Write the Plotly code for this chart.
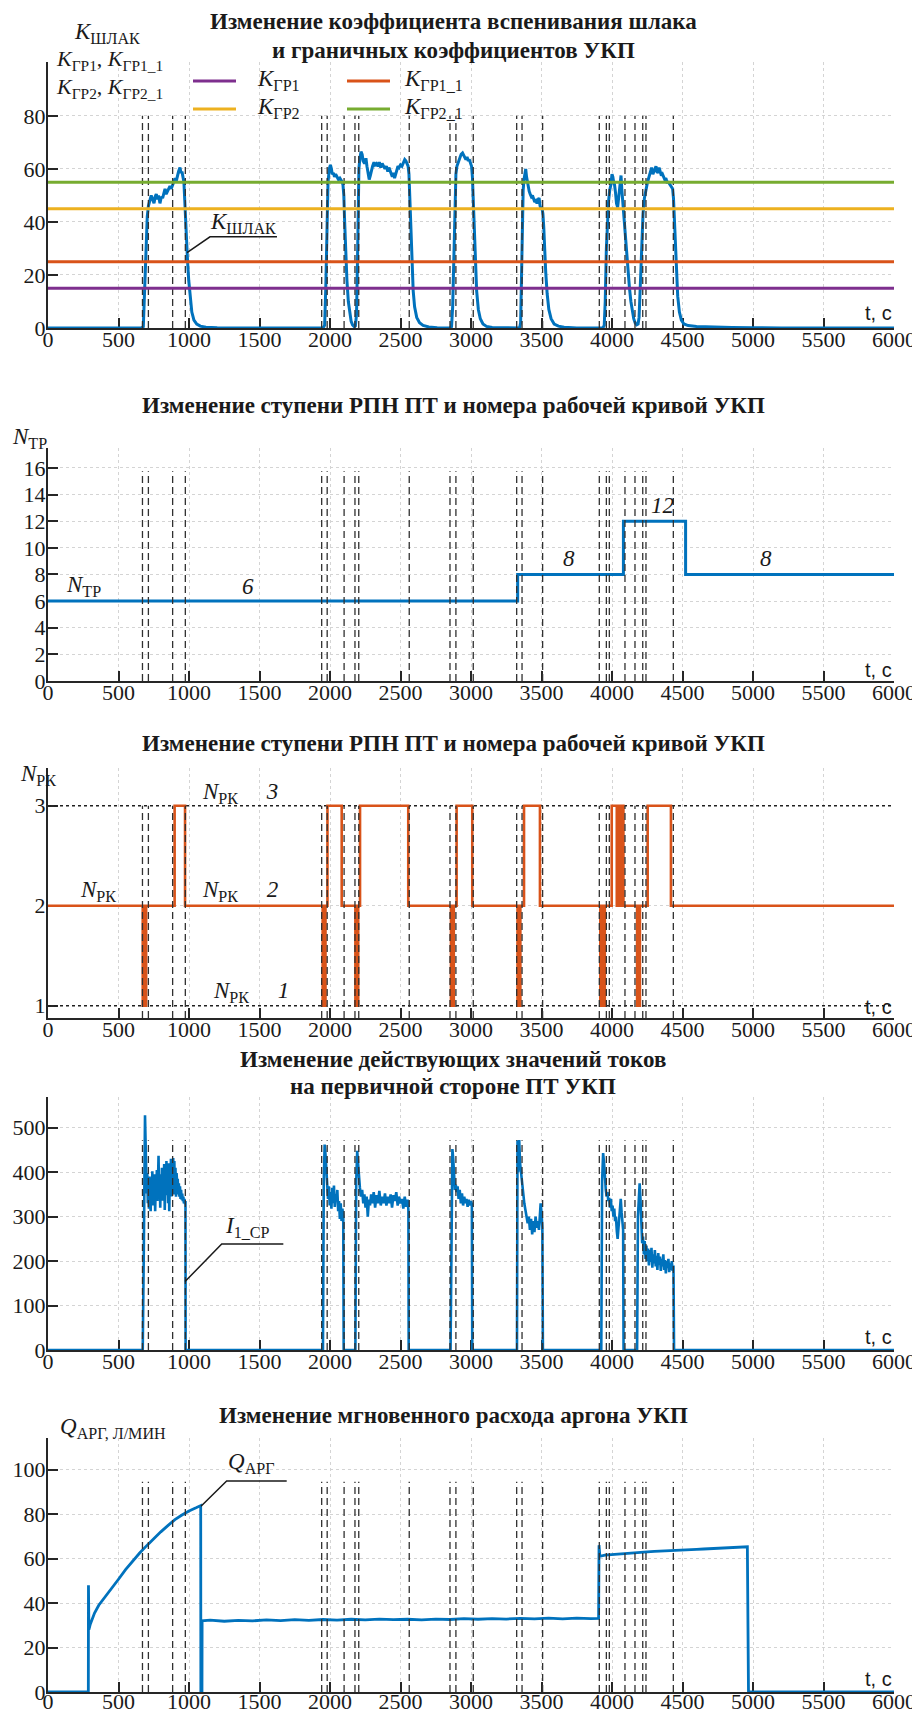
import plotly.graph_objects as go

# ---------------- data ----------------
event_t = [670, 712, 884, 974, 1941, 1980, 2100, 2177, 2204, 2562, 2851, 2893,
           3016, 3324, 3362, 3508, 3910, 3960, 3981, 4092, 4163, 4218, 4241, 4435]

x_ticks = [0, 500, 1000, 1500, 2000, 2500, 3000, 3500, 4000, 4500, 5000, 5500, 6000]

# Panel 1: slag foaming coefficient
k_t = [0, 660, 676, 684, 690, 696, 704, 712, 722, 732,
       742, 752, 760, 768, 776, 784, 794, 804, 813, 822,
       830, 838, 846, 856, 865, 874, 884, 893, 902, 910,
       918, 926, 936, 943, 950, 957, 964, 970, 976, 983,
       990, 998, 1008, 1020, 1035, 1055, 1080, 1120, 1200, 1300,
       1950, 1962, 1970, 1978, 1986, 1995, 2003, 2010, 2016, 2024,
       2032, 2040, 2050, 2060, 2070, 2082, 2092, 2098, 2104, 2112,
       2120, 2130, 2140, 2150, 2160, 2172, 2180, 2188, 2195, 2200,
       2205, 2212, 2220, 2228, 2235, 2245, 2255, 2262, 2270, 2278,
       2286, 2294, 2302, 2312, 2320, 2330, 2340, 2350, 2360, 2370,
       2380, 2390, 2400, 2410, 2418, 2426, 2434, 2442, 2450, 2458,
       2466, 2474, 2482, 2490, 2500, 2510, 2520, 2530, 2538, 2546,
       2554, 2560, 2566, 2572, 2580, 2590, 2600, 2615, 2635, 2660,
       2700, 2760, 2850,
       2862, 2870, 2878, 2886, 2893, 2900, 2910, 2920, 2930, 2940,
       2948, 2956, 2964, 2972, 2980, 2988, 2996, 3004, 3010, 3016,
       3022, 3030, 3040, 3052, 3066, 3085, 3110, 3150, 3250,
       3345, 3352, 3358, 3364, 3370, 3376, 3382, 3388, 3394, 3400,
       3406, 3413, 3420, 3428, 3436, 3444, 3452, 3460, 3468, 3476,
       3483, 3490, 3497, 3503, 3510, 3516, 3522, 3530, 3540, 3552,
       3568, 3590, 3620, 3660, 3750,
       3935, 3945, 3952, 3960, 3968, 3976, 3984, 3992, 4000, 4006,
       4012, 4018, 4025, 4032, 4040, 4046, 4052, 4058, 4064, 4070,
       4078, 4086, 4094, 4104, 4114, 4124, 4134, 4144, 4154, 4164,
       4175, 4185, 4192, 4200, 4210, 4220, 4230, 4240, 4250, 4260,
       4270, 4281, 4290, 4298, 4306, 4312, 4318, 4326, 4334, 4342,
       4350, 4358, 4366, 4374, 4382, 4390, 4400, 4410, 4420, 4430,
       4436, 4442, 4448, 4456, 4466, 4478, 4492, 4510, 4540, 4600,
       4700, 4850, 5000, 5200, 6000]
k_v = [0, 0, 0.5, 12, 24, 34, 42, 46, 48, 50,
       48.5, 47, 49.5, 50.5, 48.5, 50, 47, 49.5, 49, 51,
       52.5, 50.5, 51.5, 53, 53.5, 52.5, 54, 55.5, 56.5, 55.5,
       57.5, 59, 60.5, 58.5, 59, 57.5, 55, 48, 40, 32,
       25, 18, 11, 6, 3, 1.5, 0.7, 0.3, 0.1, 0,
       0, 1, 15, 40, 55, 60, 61.5, 60, 58, 58.5,
       57, 58, 57, 56, 56.5, 55.5, 54, 50, 40, 28,
       18, 10, 5, 2.5, 1.2, 0.5, 0.8, 5, 25, 45,
       60, 64, 66.5, 65.5, 63, 62, 64, 61, 58, 56,
       57.5, 60, 61, 62.5, 61.5, 62, 61, 62.5, 60.5, 62,
       61, 60, 61, 59, 60.5, 59, 58, 57, 58.5, 56.5,
       58, 60, 61, 60.5, 61.5, 61, 62.5, 63.5, 63, 62,
       61, 58, 50, 38, 25, 14, 8, 4, 2, 1,
       0.4, 0.1, 0,
       0.5, 8, 30, 50, 58, 61, 62.5, 64, 65.5, 66,
       65, 64, 63.5, 64.5, 63, 63.5, 62.5, 61, 57, 48,
       36, 24, 14, 7, 3.5, 1.5, 0.6, 0.2, 0,
       0, 2, 20, 40, 52, 56, 58, 60, 57, 55,
       53, 51.5, 50.5, 49.5, 50, 48.5, 47.5, 48, 47, 48.5,
       49, 46, 45, 45.5, 43, 38, 30, 21, 13, 7,
       3.5, 1.5, 0.7, 0.3, 0,
       0, 1, 10, 30, 42, 48, 52, 54, 58, 57,
       55, 54, 51, 47, 45.5, 49, 53, 56, 57.5, 52,
       46, 40, 34, 28, 21, 15, 10, 6, 3.5, 2,
       1.2, 1.5, 4, 15, 33, 43, 49, 52.5, 54.5, 56.5,
       58.5, 60.5, 58, 59, 60.5, 61, 59, 58.5, 60.5, 58.5,
       57.5, 58, 57, 56, 56.5, 55, 55, 54, 53, 52.5,
       49, 42, 33, 22, 12, 6, 3, 1.5, 0.9, 0.6,
       0.4, 0.2, 0.1, 0, 0]

thr_names = ["<i>K</i><sub>ГР1</sub>", "<i>K</i><sub>ГР2</sub>",
             "<i>K</i><sub>ГР1_1</sub>", "<i>K</i><sub>ГР2_1</sub>"]
thr_values = [15, 45, 25, 55]

# Panel 2: tap position
ntp_t = [0, 3331, 4081, 4522, 6000]
ntp_v = [6, 8, 12, 8, 8]

# Panel 3: working curve number
npk_t = [0, 672, 680, 686, 696, 898, 972,
         1948, 1955, 1960, 1968, 1982, 2083,
         2180, 2187, 2192, 2200, 2213, 2555,
         2858, 2865, 2870, 2878, 2898, 3009,
         3330, 3337, 3342, 3350, 3376, 3489,
         3917, 3924, 3929, 3937, 3942, 3949, 3998,
         4034, 4040, 4046, 4052, 4058, 4064, 4070, 4076, 4081,
         4178, 4185, 4190, 4198, 4253, 4418, 6000]
npk_v = [2, 1, 2, 1, 2, 3, 2,
         1, 2, 1, 2, 3, 2,
         1, 2, 1, 2, 3, 2,
         1, 2, 1, 2, 3, 2,
         1, 2, 1, 2, 3, 2,
         1, 2, 1, 2, 1, 2, 3,
         2, 3, 2, 3, 2, 3, 2, 3, 2,
         1, 2, 1, 2, 3, 2, 2]
npk_levels = [1, 3]

# Panel 4: primary current (first heating interval, sampled densely)
i1_t = [0, 672, 680, 688, 692, 696, 700, 704, 708, 712,
        716, 720, 724, 728, 732, 736, 740, 744, 748, 752,
        756, 760, 764, 768, 772, 776, 780, 784, 788, 792,
        796, 800, 804, 808, 812, 816, 820, 824, 828, 832,
        836, 840, 844, 848, 852, 856, 860, 864, 868, 872,
        876, 880, 884, 888, 892, 896, 900, 904, 908, 912,
        916, 920, 924, 928, 932, 936, 940, 944, 948, 952,
        956, 960, 964, 968, 972, 975, 976]
i1_v = [0, 0, 240, 528, 470, 380, 352, 398, 330, 372,
        318, 390, 345, 312, 378, 340, 402, 325, 365, 338,
        395, 312, 370, 350, 405, 335, 380, 437, 342, 395,
        320, 388, 352, 410, 336, 392, 360, 418, 315, 386,
        352, 425, 348, 402, 330, 420, 312, 395, 352, 430,
        345, 415, 368, 432, 350, 425, 362, 410, 345, 398,
        372, 385, 350, 375, 345, 368, 340, 360, 338, 352,
        335, 345, 330, 340, 328, 335, 0]
# Panel 4: remaining intervals
i_t = [1950, 1956, 1962, 1968, 1974, 1980, 1986, 1992, 1998, 2004,
       2010, 2016, 2022, 2028, 2034, 2040, 2046, 2052, 2058, 2064,
       2070, 2076, 2082, 2088, 2094, 2097,
       2180, 2186, 2193, 2199, 2205, 2212, 2220, 2228, 2236, 2244,
       2252, 2260, 2268, 2276, 2284, 2292, 2300, 2310, 2320, 2330,
       2340, 2350, 2360, 2370, 2380, 2390, 2400, 2410, 2420, 2430,
       2440, 2450, 2460, 2470, 2480, 2490, 2500, 2510, 2520, 2530,
       2540, 2550, 2556, 2558,
       2855, 2862, 2868, 2874, 2880, 2886, 2892, 2898, 2905, 2912,
       2920, 2928, 2936, 2944, 2952, 2960, 2968, 2976, 2984, 2992,
       3000, 3006, 3009,
       3326, 3330, 3334, 3338, 3342, 3348, 3354, 3360, 3366, 3372,
       3378, 3386, 3394, 3402, 3410, 3418, 3426, 3434, 3442, 3450,
       3458, 3466, 3474, 3482, 3488, 3494, 3500, 3506, 3510,
       3924, 3930, 3937, 3944, 3950, 3956, 3962, 3968, 3974, 3980,
       3986, 3992, 3998, 4004, 4010, 4016, 4022, 4028, 4034, 4040,
       4046, 4052, 4058, 4062, 4068, 4074, 4079, 4082,
       4178, 4184, 4190, 4196, 4202, 4208, 4214, 4220, 4226, 4232,
       4238, 4244, 4250, 4256, 4262, 4268, 4274, 4280, 4286, 4292,
       4298, 4304, 4310, 4316, 4322, 4328, 4334, 4340, 4346, 4352,
       4358, 4364, 4370, 4376, 4382, 4388, 4394, 4400, 4406, 4412,
       4418, 4424, 4430, 4436, 4440, 6000]
i_v = [0, 380, 462, 440, 395, 360, 340, 368, 325, 355,
       318, 365, 330, 370, 322, 350, 335, 360, 312, 335,
       295, 330, 290, 318, 300, 0,
       0, 380, 448, 420, 385, 365, 345, 360, 330, 350,
       320, 345, 300, 338, 325, 350, 330, 355, 320, 348,
       330, 358, 325, 345, 330, 352, 325, 345, 330, 350,
       320, 348, 335, 355, 325, 345, 330, 340, 318, 345,
       322, 338, 315, 0,
       0, 380, 452, 430, 390, 360, 372, 355, 368, 340,
       360, 330, 352, 325, 345, 330, 340, 322, 338, 325,
       335, 328, 0,
       0, 472, 400, 440, 472, 420, 400, 390, 370, 355,
       330, 315, 300, 285, 300, 270, 295, 260, 290, 265,
       300, 275, 290, 270, 300, 330, 310, 275, 0,
       0, 380, 443, 420, 380, 360, 345, 355, 335, 342,
       320, 340, 312, 325, 300, 318, 290, 300, 268, 250,
       275, 310, 335, 340, 310, 280, 270, 0,
       0, 300, 360, 375, 340, 270, 240, 255, 215, 245,
       205, 235, 200, 228, 190, 225, 198, 230, 185, 215,
       195, 225, 188, 212, 180, 218, 192, 210, 178, 205,
       188, 215, 180, 202, 172, 200, 185, 205, 175, 195,
       180, 200, 178, 190, 0, 0]

# Panel 5: argon flow
q_t = [0, 286, 287, 290, 300, 330, 360, 400, 450, 500,
       550, 600, 650, 700, 750, 800, 850, 900, 950, 1000,
       1050, 1083, 1084,
       1092, 1093, 1150, 1250, 1350, 1450, 1550, 1650, 1750, 1850,
       1950, 2050, 2150, 2250, 2350, 2450, 2550, 2650, 2750, 2850,
       2950, 3050, 3150, 3250, 3350, 3450, 3550, 3650, 3750, 3850,
       3905, 3908, 3914, 3950, 4000, 4050, 4100, 4150, 4200, 4250,
       4300, 4350, 4400, 4450, 4500, 4550, 4600, 4650, 4700, 4750,
       4800, 4850, 4900, 4960, 4968, 6000]
q_v = [0, 0, 48, 28, 30.5, 35.5, 39, 42.5, 46.8, 50.7,
       55, 59, 62.5, 65.8, 69, 72, 74.8, 77.5, 79.6, 81.4,
       82.8, 83.8, 0,
       0, 32, 32.3, 31.8, 32.2, 32.0, 32.4, 32.1, 32.5, 32.2,
       32.6, 32.3, 32.7, 32.4, 32.8, 32.5, 32.7, 32.4, 32.8, 32.6,
       33.0, 32.7, 33.0, 32.8, 33.1, 32.9, 33.2, 32.9, 33.2, 33.0,
       33.1, 66, 61, 61.5, 61.8, 62.1, 62.3, 62.6, 62.8, 63.0,
       63.2, 63.3, 63.5, 63.6, 63.8, 64.0, 64.1, 64.3, 64.5, 64.6,
       64.8, 64.9, 65.1, 65.3, 0, 0]

# ---------------- styling ----------------
# the page places the figure 8 px from the top-left corner; positions below are page pixels
OFF = 8
W, H = 920 - OFF, 1713 - OFF
ML, MR = 48 - OFF, 26
PW = W - ML - MR
BLUE, ORANGE, YELLOW, PURPLE, GREEN = '#0072BD', '#D95319', '#EDB120', '#7E2F8E', '#77AC30'
THR_COLORS = [PURPLE, YELLOW, ORANGE, GREEN]
AXC = '#262626'
SERIF = 'Liberation Serif, DejaVu Serif, Noto Serif, serif'
SANS = 'Liberation Sans, Arial, sans-serif'


def fxp(p):
    return (p - OFF - ML) / PW


def fyp(p):
    return 1 - (p - OFF) / H


panels = [
    dict(top=62, bot=328, yr=[0, 100.3], tv=[0, 20, 40, 60, 80], ev=(0, 80), so=-9, tc=313),
    dict(top=448, bot=681, yr=[0, 17.5], tv=list(range(0, 17, 2)), ev=(0, 15.75), so=-9, tc=670),
    dict(top=768, bot=1018, yr=[0.877, 3.377], tv=[1, 2, 3], ev=(0.877, 3), so=-9, tc=1007),
    dict(top=1097, bot=1350, yr=[0, 569], tv=[0, 100, 200, 300, 400, 500], ev=(0, 472), so=-9, tc=1337),
    dict(top=1438, bot=1692, yr=[0, 114.2], tv=[0, 20, 40, 60, 80, 100], ev=(0, 94.5), so=-11, tc=1679),
]


def ax_ids(i):
    s = '' if i == 1 else str(i)
    return 'x' + s, 'y' + s, 'xaxis' + s, 'yaxis' + s


fig = go.Figure()


def events(i):
    xa, ya, _, _ = ax_ids(i)
    lo, hi = panels[i - 1]['ev']
    xs, ys = [], []
    for t in event_t:
        xs += [t, t, None]
        ys += [lo, hi, None]
    fig.add_trace(go.Scatter(x=xs, y=ys, mode='lines', xaxis=xa, yaxis=ya,
                             line=dict(color='#303030', width=1.3, dash='7px,4px'),
                             showlegend=False, hoverinfo='skip'))


# panel 1
fig.add_trace(go.Scatter(x=k_t, y=k_v, mode='lines', line=dict(color=BLUE, width=3),
                         xaxis='x', yaxis='y', showlegend=False))
events(1)
for j, (nm, val) in enumerate(zip(thr_names, thr_values)):
    fig.add_trace(go.Scatter(x=[0, 6000], y=[val, val], mode='lines', name=nm,
                             line=dict(color=THR_COLORS[j], width=3),
                             xaxis='x', yaxis='y', showlegend=False))

# panel 2
fig.add_trace(go.Scatter(x=ntp_t, y=ntp_v, mode='lines', line=dict(color=BLUE, width=3, shape='hv'),
                         xaxis='x2', yaxis='y2', showlegend=False))
events(2)

# panel 3
for lv in npk_levels:
    fig.add_trace(go.Scatter(x=[0, 6000], y=[lv, lv], mode='lines', line=dict(color='#202020', width=1.4, dash='dot'),
                             xaxis='x3', yaxis='y3', showlegend=False))
fig.add_trace(go.Scatter(x=npk_t, y=npk_v, mode='lines', line=dict(color=ORANGE, width=2.6, shape='hv'),
                         xaxis='x3', yaxis='y3', showlegend=False))
events(3)

# panel 4
fig.add_trace(go.Scatter(x=i1_t + i_t, y=i1_v + i_v, mode='lines', line=dict(color=BLUE, width=2.6),
                         xaxis='x4', yaxis='y4', showlegend=False))
events(4)

# panel 5
fig.add_trace(go.Scatter(x=q_t, y=q_v, mode='lines', line=dict(color=BLUE, width=2.8),
                         xaxis='x5', yaxis='y5', showlegend=False))
events(5)

layout = dict(
    width=W, height=H, margin=dict(l=ML, r=MR, t=0, b=0, autoexpand=False),
    paper_bgcolor='white', plot_bgcolor='white', template='none', showlegend=False,
    font=dict(family=SERIF, color='#1a1a1a'),
)
for i, p in enumerate(panels, 1):
    xa, ya, xk, yk = ax_ids(i)
    common = dict(showline=True, linecolor=AXC, linewidth=2, ticks='inside', ticklen=10, tickwidth=1.5,
                  tickcolor=AXC, showgrid=True, gridcolor='#d4d4d4', griddash='dot', gridwidth=1,
                  zeroline=False, automargin=False, layer='below traces',
                  tickfont=dict(family=SERIF, size=22, color='#1a1a1a'))
    layout[xk] = dict(domain=[0, 1], anchor=ya, range=[0, 6000], tickvals=x_ticks,
                      ticklabelstandoff=p['so'], **common)
    layout[yk] = dict(domain=[fyp(p['bot']), fyp(p['top'])], anchor=xa, range=p['yr'], tickvals=p['tv'],
                      ticklabelstandoff=-4, **common)
fig.update_layout(**layout)

anns = []
shapes = []


def paper_text(text, xp, yp, size, xanchor='center', family=SERIF):
    anns.append(dict(text=text, x=fxp(xp), y=fyp(yp), xref='paper', yref='paper', xanchor=xanchor,
                     yanchor='middle', showarrow=False, font=dict(family=family, size=size, color='#1a1a1a')))


def data_text(text, i, x, y, size=23):
    xa, ya, _, _ = ax_ids(i)
    anns.append(dict(text=text, x=x, y=y, xref=xa, yref=ya, xanchor='center', yanchor='middle',
                     showarrow=False, font=dict(family=SERIF, size=size, color='#1a1a1a')))


# titles
for txt, yp in [("Изменение коэффициента вспенивания шлака", 22),
                ("и граничных коэффициентов УКП", 50),
                ("Изменение ступени РПН ПТ и номера рабочей кривой УКП", 405),
                ("Изменение ступени РПН ПТ и номера рабочей кривой УКП", 743),
                ("Изменение действующих значений токов", 1059),
                ("на первичной стороне ПТ УКП", 1086),
                ("Изменение мгновенного расхода аргона УКП", 1415)]:
    paper_text('<b>' + txt + '</b>', 453, yp, 23)

# "t, c" axis labels
for p in panels:
    paper_text('t, c', 894, p['tc'], 20, xanchor='right', family=SANS)

# y-axis labels
paper_text('<i>K</i><sub>ШЛАК</sub>', 107, 33, 23)
paper_text('<i>K</i><sub>ГР1</sub>, <i>K</i><sub>ГР1_1</sub>', 54, 60, 22, xanchor='left')
paper_text('<i>K</i><sub>ГР2</sub>, <i>K</i><sub>ГР2_1</sub>', 54, 88, 22, xanchor='left')
paper_text('<i>N</i><sub>ТР</sub>', 10, 438, 23, xanchor='left')
paper_text('<i>N</i><sub>РК</sub>', 18, 775, 23, xanchor='left')
paper_text('<i>Q</i><sub>АРГ, Л/МИН</sub>', 58, 1428, 23, xanchor='left')

# legend of the threshold lines (two columns)
leg_pos = [(193, 81, 62), (193, 109, 62), (347, 81, 55), (347, 109, 55)]
for j, (nm, (lx, ly, dx)) in enumerate(zip(thr_names, leg_pos)):
    shapes.append(dict(type='line', xref='paper', yref='paper', x0=fxp(lx), x1=fxp(lx + 43),
                       y0=fyp(ly), y1=fyp(ly), line=dict(color=THR_COLORS[j], width=3)))
    paper_text(nm, lx + dx, ly - 1, 23, xanchor='left')

# panel 2 labels
data_text('<i>N</i><sub>ТР</sub>', 2, 254, 7.1)
data_text('<i>6</i>', 2, 1418, 7.1)
data_text('<i>8</i>', 2, 3695, 9.2)
data_text('<i>12</i>', 2, 4355, 13.2)
data_text('<i>8</i>', 2, 5092, 9.2)

# panel 3 labels
sp = '\u00a0' * 5
data_text('<i>N</i><sub>РК</sub>', 3, 358, 2.15)
data_text('<i>N</i><sub>РК</sub>' + sp + '<i>3</i>', 3, 1360, 3.13)
data_text('<i>N</i><sub>РК</sub>' + sp + '<i>2</i>', 3, 1360, 2.15)
data_text('<i>N</i><sub>РК</sub>' + sp + '<i>1</i>', 3, 1442, 1.14)

# callouts
data_text('<i>K</i><sub>ШЛАК</sub>', 1, 1380, 39.5)
data_text('<i>I</i><sub>1_СР</sub>', 4, 1418, 277)
data_text('<i>Q</i><sub>АРГ</sub>', 5, 1445, 102.8)

for i, pts in [(1, [(986, 28.4), (1149, 34.4), (1624, 34.4)]),
               (4, [(972, 154), (1232, 238.5), (1669, 238.5)]),
               (5, [(1085, 83.5), (1267, 94.9), (1693, 94.9)])]:
    xa, ya, _, _ = ax_ids(i)
    path = 'M ' + ' L '.join(f'{x},{y}' for x, y in pts)
    shapes.append(dict(type='path', path=path, xref=xa, yref=ya, line=dict(color='#1a1a1a', width=1.5)))

fig.update_layout(annotations=anns, shapes=shapes)
fig.write_html('out.html')
